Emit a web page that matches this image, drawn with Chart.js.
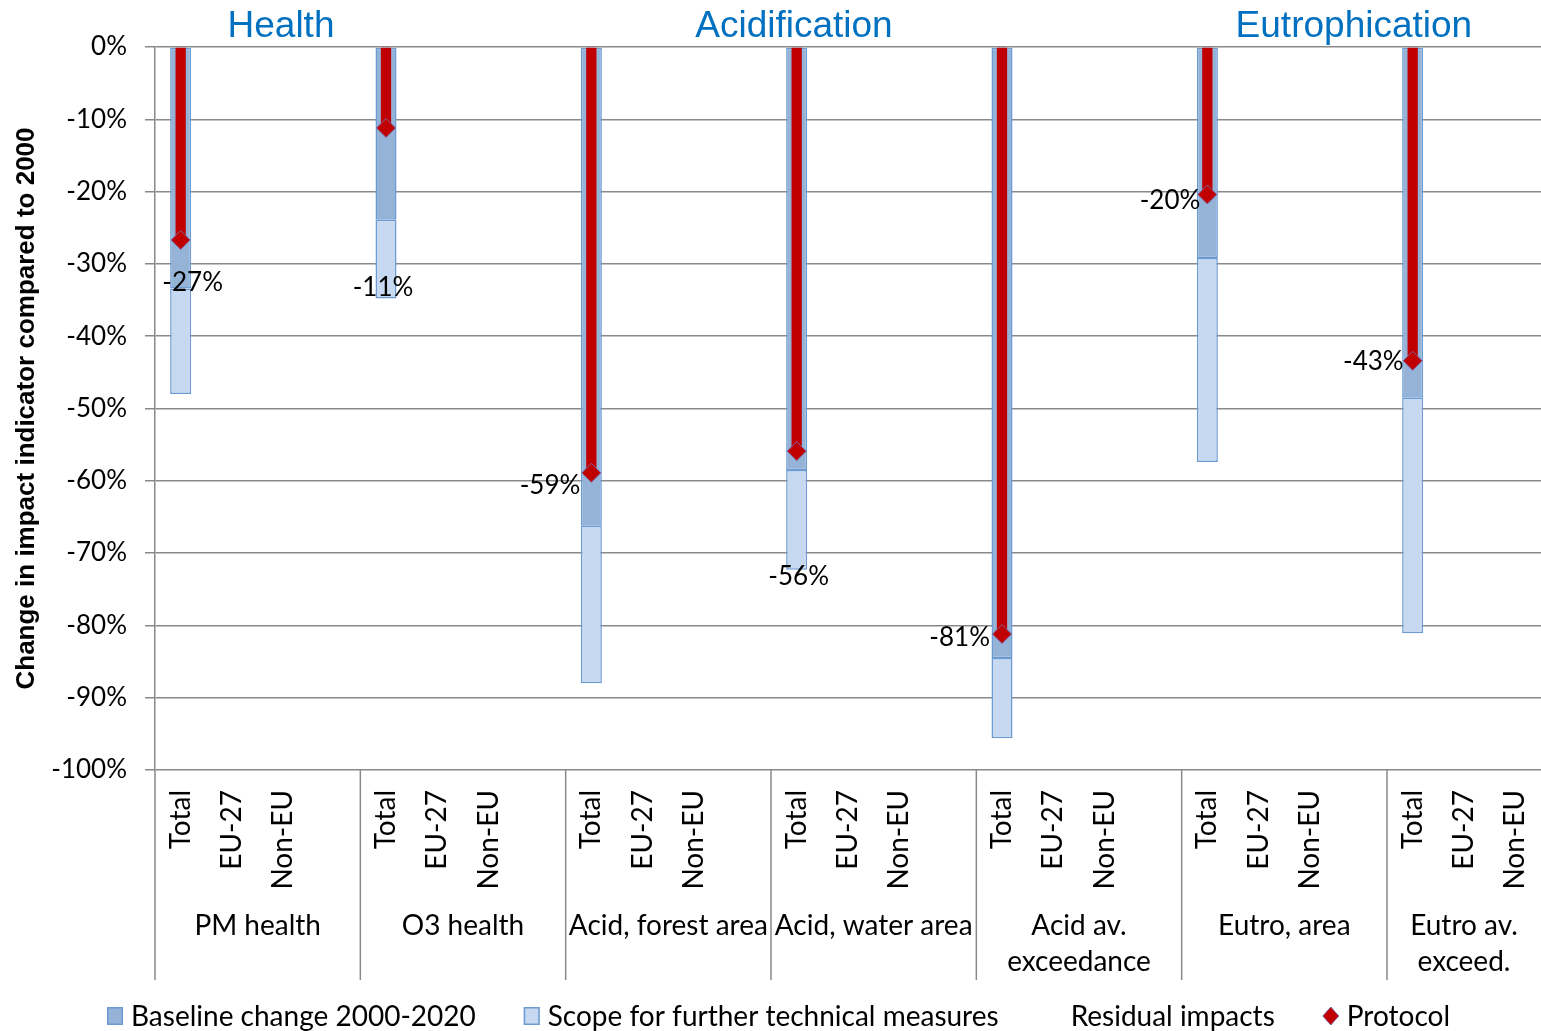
<!DOCTYPE html>
<html>
<head>
<meta charset="utf-8">
<script src="https://cdn.jsdelivr.net/npm/chart.js@4/dist/chart.umd.min.js"></script>
<style>
  html, body { margin: 0; padding: 0; background: #fff; }
  #wrap { width: 1541px; height: 1031px; }
</style>
</head>
<body>
<div id="wrap"><canvas id="c" width="1541" height="1031"></canvas></div>
<script>
// Impact indicators, grouped; each group shows Total / EU-27 / Non-EU
const impactGroups = [
  ['PM health'],
  ['O3 health'],
  ['Acid, forest area'],
  ['Acid, water area'],
  ['Acid av.', 'exceedance'],
  ['Eutro, area'],
  ['Eutro av.', 'exceed.']
];
const regions = ['Total', 'EU-27', 'Non-EU'];

// Change in impact indicator compared to 2000 (%), Total only
const baselineChange  = [-33.4, -23.9, -66.2, -58.5, -84.5, -29.2, -48.5];
const furtherMeasures = [-14.6, -10.9, -21.8, -13.8, -11.1, -28.2, -32.6];
const protocol        = [-26.7, -11.2, -58.9, -55.9, -81.2, -20.4, -43.4];

const themes = ['Health', 'Acidification', 'Eutrophication'];
const yTickValues = [0, -10, -20, -30, -40, -50, -60, -70, -80, -90, -100];

// ---- styling ----
const FONT = 'Lato';
const GRID = '#898989';
const themeX = [0.0909, 0.461, 0.865];          // fraction of plot width
const labelStyle = [                             // protocol value labels
  { align: 'center', dx: 12,  dy: 43 },
  { align: 'center', dx: -3,  dy: 160 },
  { align: 'right',  dx: -11, dy: 13 },
  { align: 'center', dx: 2,   dy: 125 },
  { align: 'right',  dx: -12, dy: 4 },
  { align: 'right',  dx: -7,  dy: 6 },
  { align: 'right',  dx: -9,  dy: 1 }
];

// category slots: 3 regions per group plus a spacer slot between groups
const labels = [];
const totalIndex = [];
impactGroups.forEach((g, i) => {
  totalIndex.push(labels.length);
  regions.forEach(r => labels.push(r));
  if (i < impactGroups.length - 1) labels.push('');
});
function perTotal(fn) {
  const arr = labels.map(() => null);
  totalIndex.forEach((ix, i) => { arr[ix] = fn(i); });
  return arr;
}

const legendItems = [
  { text: 'Baseline change 2000-2020', kind: 'box', fill: '#95B3D7', stroke: '#6C9AD3' },
  { text: 'Scope for further technical measures', kind: 'box', fill: '#C6D9F1', stroke: '#6C9AD3' },
  { text: 'Residual impacts', kind: 'none' },
  { text: 'Protocol', kind: 'diamond', fill: '#C00000', stroke: '#8064A2' }
];

const overlay = {
  id: 'overlay',
  afterDraw(chart) {
    const ctx = chart.ctx;
    const x = chart.scales.x, y = chart.scales.y;
    const area = chart.chartArea;
    const slot = (area.right - area.left) / labels.length;

    ctx.save();
    // group separators below the axis
    ctx.strokeStyle = GRID; ctx.lineWidth = 1.5;
    const bounds = [];
    impactGroups.forEach((g, i) => {
      bounds.push(x.getPixelForValue(totalIndex[i]) - slot / 2);
    });
    bounds.forEach(bx => {
      ctx.beginPath(); ctx.moveTo(bx, area.bottom); ctx.lineTo(bx, area.bottom + 210); ctx.stroke();
    });
    // group names
    ctx.fillStyle = '#000';
    ctx.font = '28px ' + FONT;
    ctx.textAlign = 'center'; ctx.textBaseline = 'middle';
    impactGroups.forEach((g, i) => {
      const left = bounds[i];
      const right = i < bounds.length - 1 ? bounds[i + 1] : area.right;
      const cx = (left + right) / 2;
      g.forEach((line, k) => ctx.fillText(line, cx, area.bottom + 156 + k * 36));
    });

    // theme headings
    ctx.fillStyle = '#0070C0';
    ctx.font = '37px "Liberation Sans", Arial, sans-serif';
    ctx.textBaseline = 'alphabetic';
    themes.forEach((t, i) => {
      ctx.fillText(t, area.left + themeX[i] * (area.right - area.left), 37);
    });

    // protocol value labels
    ctx.fillStyle = '#000';
    ctx.font = '26px ' + FONT;
    ctx.textBaseline = 'middle';
    protocol.forEach((v, i) => {
      const px = x.getPixelForValue(totalIndex[i]);
      const py = y.getPixelForValue(v);
      const st = labelStyle[i];
      ctx.textAlign = st.align;
      ctx.fillText(Math.round(v) + '%', px + st.dx, py + st.dy);
    });

    // legend
    ctx.font = '28px ' + FONT;
    ctx.textAlign = 'left';
    const boxW = 16, gapT = 8, gapItem = 48;
    const widths = legendItems.map(it => boxW + gapT + ctx.measureText(it.text).width);
    const total = widths.reduce((a, b) => a + b, 0) + gapItem * (legendItems.length - 1);
    let lx = (chart.width - total) / 2 + 8;
    const ly = 1016;
    legendItems.forEach((it, i) => {
      if (it.kind === 'box') {
        ctx.fillStyle = it.fill; ctx.strokeStyle = it.stroke; ctx.lineWidth = 1.5;
        ctx.fillRect(lx, ly - 9, boxW, 18); ctx.strokeRect(lx + 0.75, ly - 8.25, boxW - 1.5, 16.5);
      } else if (it.kind === 'diamond') {
        ctx.fillStyle = it.fill; ctx.strokeStyle = it.stroke; ctx.lineWidth = 1;
        ctx.beginPath();
        ctx.moveTo(lx + 8, ly - 9); ctx.lineTo(lx + 16, ly); ctx.lineTo(lx + 8, ly + 9); ctx.lineTo(lx, ly);
        ctx.closePath(); ctx.fill(); ctx.stroke();
      }
      ctx.fillStyle = '#000';
      ctx.fillText(it.text, lx + boxW + gapT, ly + 1);
      lx += widths[i] + gapItem;
    });
    ctx.restore();
  }
};

function draw() {
  new Chart(document.getElementById('c'), {
    data: {
      labels: labels,
      datasets: [
        {
          type: 'line', label: 'Protocol',
          data: perTotal(i => protocol[i]),
          showLine: false, pointStyle: 'rectRot', pointRadius: 9.5,
          pointBackgroundColor: '#C00000', pointBorderColor: '#8064A2', pointBorderWidth: 1,
          order: 0
        },
        {
          type: 'bar', label: 'Protocol level',
          data: perTotal(i => [0, protocol[i]]),
          backgroundColor: '#C00000', borderWidth: 0,
          barPercentage: 0.2, categoryPercentage: 1, grouped: false, order: 1
        },
        {
          type: 'bar', label: 'Baseline change 2000-2020',
          data: perTotal(i => [0, baselineChange[i]]),
          backgroundColor: '#95B3D7', borderColor: '#6C9AD3', borderWidth: 1.5, borderSkipped: false,
          barPercentage: 0.41, categoryPercentage: 1, grouped: false, order: 2
        },
        {
          type: 'bar', label: 'Scope for further technical measures',
          data: perTotal(i => [baselineChange[i], baselineChange[i] + furtherMeasures[i]]),
          backgroundColor: '#C6D9F1', borderColor: '#6C9AD3', borderWidth: 1.5, borderSkipped: false,
          barPercentage: 0.41, categoryPercentage: 1, grouped: false, order: 3
        },
        {
          type: 'bar', label: 'Residual impacts',
          data: perTotal(i => [baselineChange[i] + furtherMeasures[i], -100]),
          backgroundColor: 'rgba(0,0,0,0)', borderWidth: 0,
          barPercentage: 0.41, categoryPercentage: 1, grouped: false, order: 4
        }
      ]
    },
    options: {
      responsive: false,
      animation: false,
      layout: { autoPadding: false, padding: { left: 0, top: 47, right: 0, bottom: 51 } },
      plugins: { legend: { display: false }, tooltip: { enabled: false } },
      scales: {
        x: {
          type: 'category',
          offset: true,
          grid: { display: false, drawTicks: false },
          border: { display: false },
          ticks: {
            autoSkip: false, minRotation: 90, maxRotation: 90, padding: 20,
            color: '#000', font: { family: FONT, size: 28 }
          },
          afterFit(s) { s.height = 210; s.paddingLeft = 0; s.paddingRight = 0; }
        },
        y: {
          min: -100, max: 0,
          afterBuildTicks(s) { s.ticks = yTickValues.map(v => ({ value: v })); },
          ticks: {
            padding: 18, color: '#000', font: { family: FONT, size: 26 },
            callback: v => (v === 0 ? 0 : v) + '%'
          },
          grid: { color: GRID, lineWidth: 1.5, tickLength: 10 },
          border: { color: GRID, width: 1.5 },
          title: {
            display: true, text: 'Change in impact indicator compared to 2000',
            color: '#000', font: { family: '"Liberation Sans", Arial, sans-serif', size: 26, weight: 'bold' },
            padding: { top: 11, bottom: 0 }
          },
          afterFit(s) { s.width = 155; s.paddingTop = 0; s.paddingBottom = 0; }
        }
      }
    },
    plugins: [overlay]
  });
}
if (document.fonts && document.fonts.load) {
  Promise.all([
    document.fonts.load('26px Lato'),
    document.fonts.load('bold 26px "Liberation Sans"'),
    document.fonts.load('37px "Liberation Sans"')
  ]).then(draw, draw);
} else { draw(); }
</script>
</body>
</html>
